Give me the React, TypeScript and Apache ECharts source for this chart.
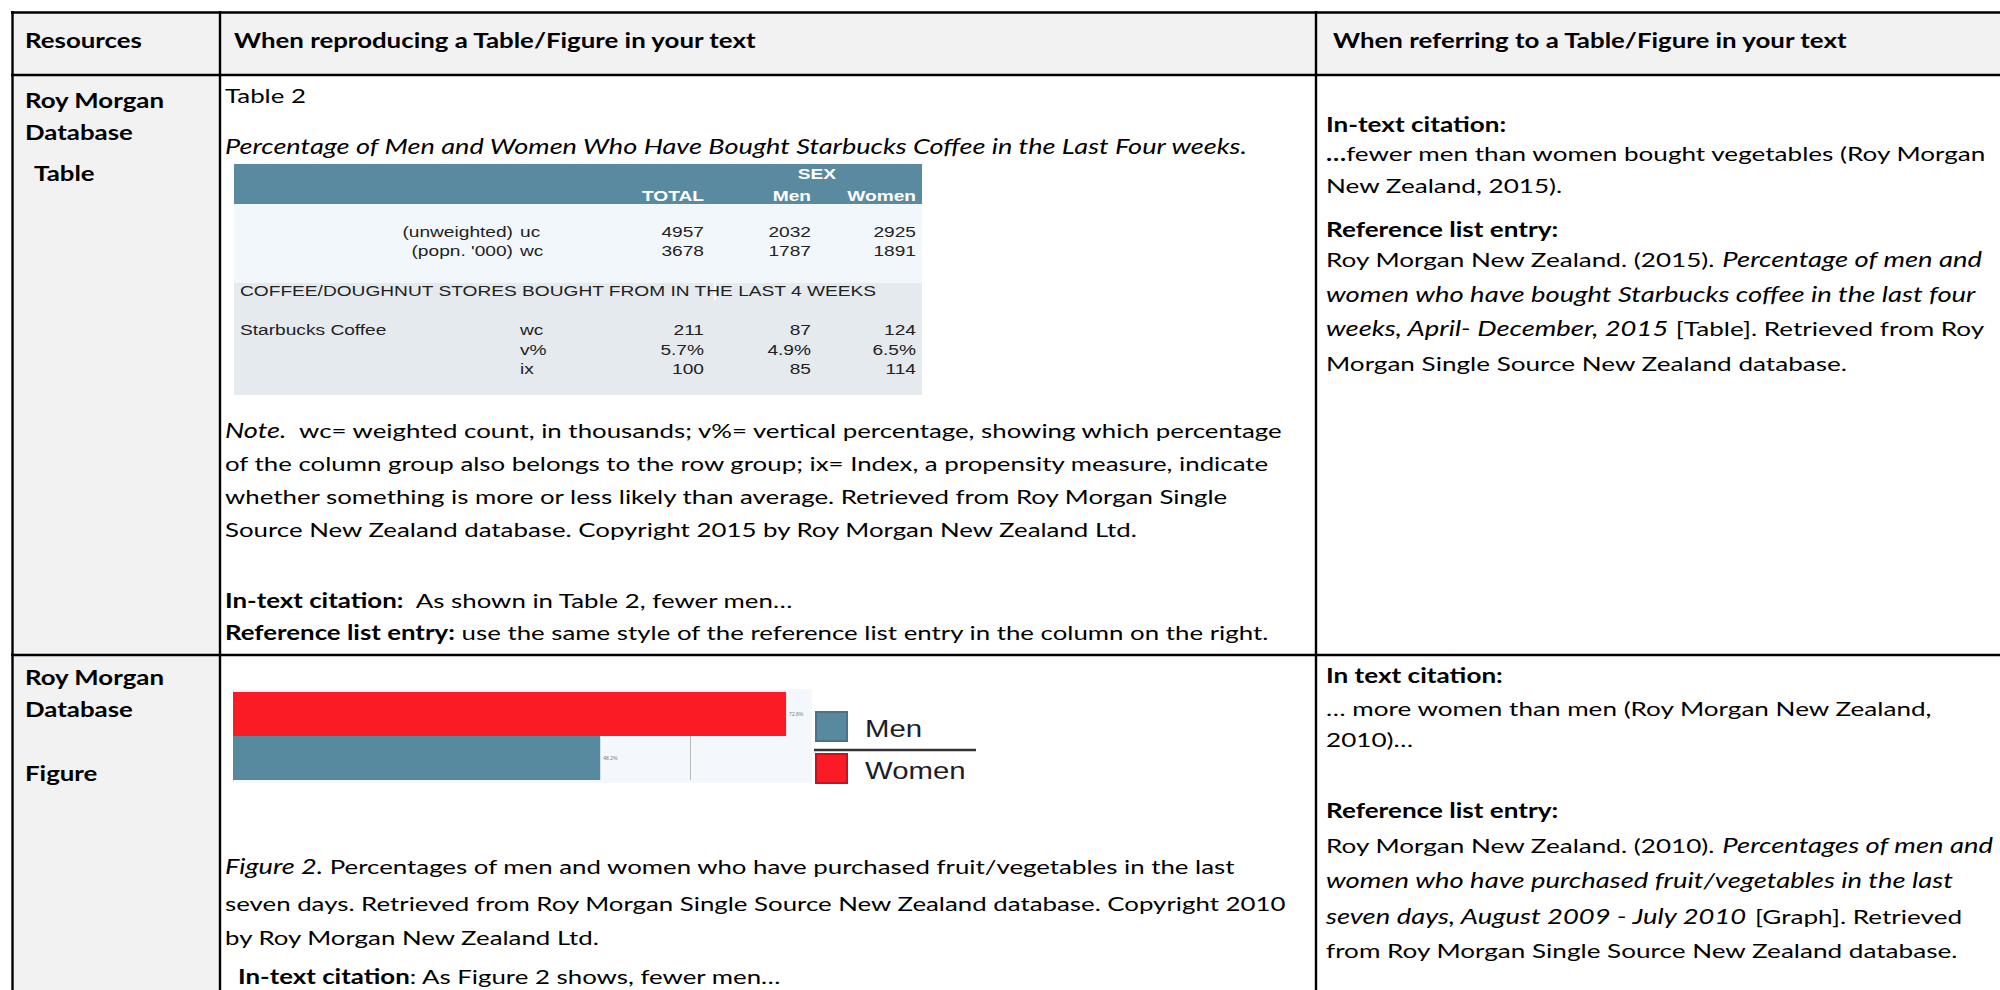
import React, { useEffect, useRef } from 'react';
import * as echarts from 'echarts';

// ---------- chart data ----------
const sexCategories = ['Men', 'Women'];
const purchasedFruitVegPct = [48.2, 72.6];
const sexColors = ['#578a9e', '#fb1b24'];
const sexBorderColors = ['#4a7486', '#c3141b'];
const axisMax = 76;
const axisInterval = 20;

// ---------- embedded Roy Morgan table data ----------
const tableColumns = ['TOTAL', 'Men', 'Women'];
const sampleLabels = ['(unweighted)', "(popn. '000)"];
const sampleCodes = ['uc', 'wc'];
const sampleValues = [
  ['4957', '2032', '2925'],
  ['3678', '1787', '1891'],
];
const sectionTitle = 'COFFEE/DOUGHNUT STORES BOUGHT FROM IN THE LAST 4 WEEKS';
const brandLabel = 'Starbucks Coffee';
const brandCodes = ['wc', 'v%', 'ix'];
const brandValues = [
  ['211', '87', '124'],
  ['5.7%', '4.9%', '6.5%'],
  ['100', '85', '114'],
];

// ---------- document text ----------
type Seg = [string, 'r' | 'b' | 'i'];
type Line = { x: number; y: number; parts: Seg[] };

const headerLines: Line[] = [
  { x: 25, y: 40, parts: [['Resources', 'b']] },
  { x: 234, y: 40, parts: [['When reproducing a Table/Figure in your text', 'b']] },
  { x: 1333, y: 40, parts: [['When referring to a Table/Figure in your text', 'b']] },
];

const leftLines: Line[] = [
  { x: 25, y: 100, parts: [['Roy Morgan', 'b']] },
  { x: 25, y: 132, parts: [['Database', 'b']] },
  { x: 34, y: 173, parts: [['Table', 'b']] },
  { x: 25, y: 677, parts: [['Roy Morgan', 'b']] },
  { x: 25, y: 709, parts: [['Database', 'b']] },
  { x: 25, y: 773, parts: [['Figure', 'b']] },
];

const noteLine1: Seg[] = [['Note.', 'i'], ['  wc= weighted count, in thousands; v%= vertical percentage, showing which percentage', 'r']];

const middleLines: Line[] = [
  { x: 225, y: 95, parts: [['Table 2', 'r']] },
  { x: 225, y: 146, parts: [['Percentage of Men and Women Who Have Bought Starbucks Coffee in the Last Four weeks.', 'i']] },
  { x: 225, y: 430, parts: noteLine1 },
  { x: 225, y: 463, parts: [['of the column group also belongs to the row group; ix= Index, a propensity measure, indicate', 'r']] },
  { x: 225, y: 496, parts: [['whether something is more or less likely than average. Retrieved from Roy Morgan Single', 'r']] },
  { x: 225, y: 529, parts: [['Source New Zealand database. Copyright 2015 by Roy Morgan New Zealand Ltd.', 'r']] },
  { x: 225, y: 600, parts: [['In-text citation:', 'b'], ['  As shown in Table 2, fewer men…', 'r']] },
  { x: 225, y: 632, parts: [['Reference list entry:', 'b'], [' use the same style of the reference list entry in the column on the right.', 'r']] },
  { x: 225, y: 866, parts: [['Figure 2.', 'i'], [' Percentages of men and women who have purchased fruit/vegetables in the last', 'r']] },
  { x: 225, y: 903, parts: [['seven days. Retrieved from Roy Morgan Single Source New Zealand database. Copyright 2010', 'r']] },
  { x: 225, y: 937, parts: [['by Roy Morgan New Zealand Ltd.', 'r']] },
  { x: 238, y: 976, parts: [['In-text citation', 'b'], [': As Figure 2 shows, fewer men…', 'r']] },
];

const rightLines: Line[] = [
  { x: 1326, y: 124, parts: [['In-text citation:', 'b']] },
  { x: 1326, y: 153, parts: [['…', 'b'], ['fewer men than women bought vegetables (Roy Morgan', 'r']] },
  { x: 1326, y: 185, parts: [['New Zealand, 2015).', 'r']] },
  { x: 1326, y: 229, parts: [['Reference list entry:', 'b']] },
  { x: 1326, y: 259, parts: [['Roy Morgan New Zealand. (2015). ', 'r'], ['Percentage of men and', 'i']] },
  { x: 1326, y: 294, parts: [['women who have bought Starbucks coffee in the last four', 'i']] },
  { x: 1326, y: 328, parts: [['weeks, April- December, 2015', 'i'], [' [Table]. Retrieved from Roy', 'r']] },
  { x: 1326, y: 363, parts: [['Morgan Single Source New Zealand database.', 'r']] },
  { x: 1326, y: 675, parts: [['In text citation:', 'b']] },
  { x: 1326, y: 708, parts: [['… more women than men (Roy Morgan New Zealand,', 'r']] },
  { x: 1326, y: 739, parts: [['2010)…', 'r']] },
  { x: 1326, y: 810, parts: [['Reference list entry:', 'b']] },
  { x: 1326, y: 845, parts: [['Roy Morgan New Zealand. (2010). ', 'r'], ['Percentages of men and', 'i']] },
  { x: 1326, y: 880, parts: [['women who have purchased fruit/vegetables in the last', 'i']] },
  { x: 1326, y: 916, parts: [['seven days, August 2009 - July 2010', 'i'], [' [Graph]. Retrieved', 'r']] },
  { x: 1326, y: 950, parts: [['from Roy Morgan Single Source New Zealand database.', 'r']] },
];

const DOC_FONT = 'Lato';
const DOC_SIZE = 20;
const ITALIC_SIZE = 21;
const CALIB_MID = 1060;
const CALIB_RIGHT = 1071;
const STRETCH = 2000 / 1568;
const TBL_FONT = '"Liberation Sans", Arial, sans-serif';

export default function App() {
  const ref = useRef<HTMLDivElement>(null);

  useEffect(() => {
    const el = ref.current;
    if (!el) return;
    const chart = echarts.init(el, null, { renderer: 'svg' });

    const canvas = document.createElement('canvas');
    const ctx = canvas.getContext('2d') as CanvasRenderingContext2D;
    const fontOf = (s: string) =>
      `${s === 'i' ? 'italic ' : ''}${s === 'b' ? 'bold ' : ''}${s === 'i' ? ITALIC_SIZE : DOC_SIZE}px ${DOC_FONT}`;
    const measure = (parts: Seg[]) =>
      parts.reduce((w, [t, s]) => {
        ctx.font = fontOf(s);
        return w + ctx.measureText(t).width;
      }, 0);
    const mw = measure(noteLine1);
    const kMid = mw > 0 ? CALIB_MID / mw : STRETCH;
    const kRight = mw > 0 ? CALIB_RIGHT / mw : STRETCH;

    const rich: any = {
      r: { fontFamily: DOC_FONT, fontSize: DOC_SIZE, fill: '#000' },
      b: { fontFamily: DOC_FONT, fontSize: DOC_SIZE, fontWeight: 'bold', fill: '#000' },
      i: { fontFamily: DOC_FONT, fontSize: ITALIC_SIZE, fontStyle: 'italic', fill: '#000' },
    };
    const docText = (k: number) => (ln: Line) => ({
      type: 'text',
      x: ln.x,
      y: ln.y,
      scaleX: k,
      z: 20,
      silent: true,
      style: {
        text: ln.parts.map(([t, s]) => `{${s}|${t}}`).join(''),
        rich,
        fontFamily: DOC_FONT,
        fontSize: DOC_SIZE,
        fill: '#000',
        align: 'left',
        verticalAlign: 'middle',
      },
    });

    const tblText = (text: string, x: number, y: number, align: string, opts: any = {}) => ({
      type: 'text',
      x,
      y,
      scaleX: STRETCH,
      z: 12,
      silent: true,
      style: {
        text,
        fontFamily: TBL_FONT,
        fontSize: 15,
        fill: opts.fill || '#222',
        fontWeight: opts.bold ? 'bold' : 'normal',
        align,
        verticalAlign: 'middle',
      },
    });

    const BW = 2.4;
    const hLine = (y: number, x1: number, x2: number) => ({
      type: 'line', z: 15, silent: true,
      shape: { x1, y1: y, x2, y2: y },
      style: { stroke: '#000', lineWidth: BW },
    });
    const vLine = (x: number, y1: number, y2: number) => ({
      type: 'line', z: 15, silent: true,
      shape: { x1: x, y1, x2: x, y2 },
      style: { stroke: '#000', lineWidth: BW },
    });

    const colRights = [704, 811, 916];
    const sampleYs = [232, 251];
    const brandYs = [330, 350, 369];

    const embedded: any[] = [
      { type: 'rect', z: 1, silent: true, shape: { x: 234, y: 164, width: 688, height: 231 }, style: { fill: '#e5eaee' } },
      { type: 'rect', z: 1, silent: true, shape: { x: 234, y: 164, width: 688, height: 40 }, style: { fill: '#5a8aa0' } },
      { type: 'rect', z: 1, silent: true, shape: { x: 234, y: 204, width: 688, height: 79 }, style: { fill: '#f2f7fc' } },
      { type: 'rect', z: 2, silent: true, shape: { x: 714, y: 283, width: 2, height: 17 }, style: { fill: '#ffffff' } },
      tblText('SEX', 817, 174, 'center', { fill: '#fff', bold: true }),
      ...tableColumns.map((c, i) => tblText(c, colRights[i], 196, 'right', { fill: '#fff', bold: true })),
      ...sampleLabels.map((l, r) => tblText(l, 513, sampleYs[r], 'right')),
      ...sampleCodes.map((c, r) => tblText(c, 520, sampleYs[r], 'left')),
      ...sampleValues.flatMap((row, r) => row.map((v, i) => tblText(v, colRights[i], sampleYs[r], 'right'))),
      tblText(sectionTitle, 240, 291, 'left'),
      tblText(brandLabel, 240, 330, 'left'),
      ...brandCodes.map((c, r) => tblText(c, 520, brandYs[r], 'left')),
      ...brandValues.flatMap((row, r) => row.map((v, i) => tblText(v, colRights[i], brandYs[r], 'right'))),
    ];

    // legend (drawn like the original pasted picture)
    const legendYs = [712, 754];
    const legendTextYs = [729, 771];
    const legend: any[] = [
      ...sexCategories.map((name, i) => ({
        type: 'rect', z: 12, silent: true,
        shape: { x: 816, y: legendYs[i], width: 31, height: 29 },
        style: { fill: sexColors[i], stroke: sexBorderColors[i], lineWidth: 2 },
      })),
      ...sexCategories.map((name, i) => ({
        type: 'text', z: 12, silent: true, x: 865, y: legendTextYs[i], scaleX: STRETCH,
        style: { text: name, fontFamily: TBL_FONT, fontSize: 23, fill: '#1c1c2c', align: 'left', verticalAlign: 'middle' },
      })),
      { type: 'line', z: 12, silent: true, shape: { x1: 814, y1: 750, x2: 976, y2: 750 }, style: { stroke: '#333', lineWidth: 2.5 } },
    ];

    const option: any = {
      animation: false,
      backgroundColor: '#ffffff',
      grid: { left: 233, top: 692, width: 579, height: 88, containLabel: false },
      xAxis: {
        type: 'value',
        min: 0,
        max: axisMax,
        interval: axisInterval,
        axisLabel: { show: false },
        axisLine: { show: false },
        axisTick: { show: false },
        splitLine: { show: true, showMaxLine: false, lineStyle: { color: '#b9b9b9', width: 1 } },
      },
      yAxis: {
        type: 'category',
        data: sexCategories,
        axisLabel: { show: false },
        axisTick: { show: false },
        axisLine: { show: true, lineStyle: { color: '#b0b0b0', width: 1 } },
      },
      series: [
        {
          type: 'bar',
          name: 'Purchased fruit/vegetables in the last seven days',
          barCategoryGap: '0%',
          data: purchasedFruitVegPct.map((v, i) => ({ value: v, itemStyle: { color: sexColors[i] } })),
          label: { show: true, position: 'right', distance: 3, fontSize: 5, color: '#777', formatter: '{c}%' },
        },
      ],
      graphic: {
        elements: [
          // cell backgrounds
          { type: 'rect', z: -5, silent: true, shape: { x: 12, y: 12, width: 1988, height: 63 }, style: { fill: '#f2f2f2' } },
          { type: 'rect', z: -5, silent: true, shape: { x: 12, y: 75, width: 208, height: 915 }, style: { fill: '#f2f2f2' } },
          // chart plot background
          { type: 'rect', z: -5, silent: true, shape: { x: 233, y: 689, width: 579, height: 94 }, style: { fill: '#f4f8fc' } },
          // borders
          hLine(12.5, 11, 2000),
          hLine(75, 11, 2000),
          hLine(655, 11, 2000),
          vLine(12.5, 11, 990),
          vLine(220, 11, 990),
          vLine(1316, 11, 990),
          ...embedded,
          ...legend,
          ...headerLines.map(docText(kMid)),
          ...leftLines.map(docText(kMid)),
          ...middleLines.map(docText(kMid)),
          ...rightLines.map(docText(kRight)),
        ],
      },
    };

    chart.setOption(option);
    return () => {
      chart.dispose();
    };
  }, []);

  return (
    <div
      ref={ref}
      style={{ position: 'fixed', left: 0, top: 0, width: 2000, height: 990, background: '#fff' }}
    />
  );
}
